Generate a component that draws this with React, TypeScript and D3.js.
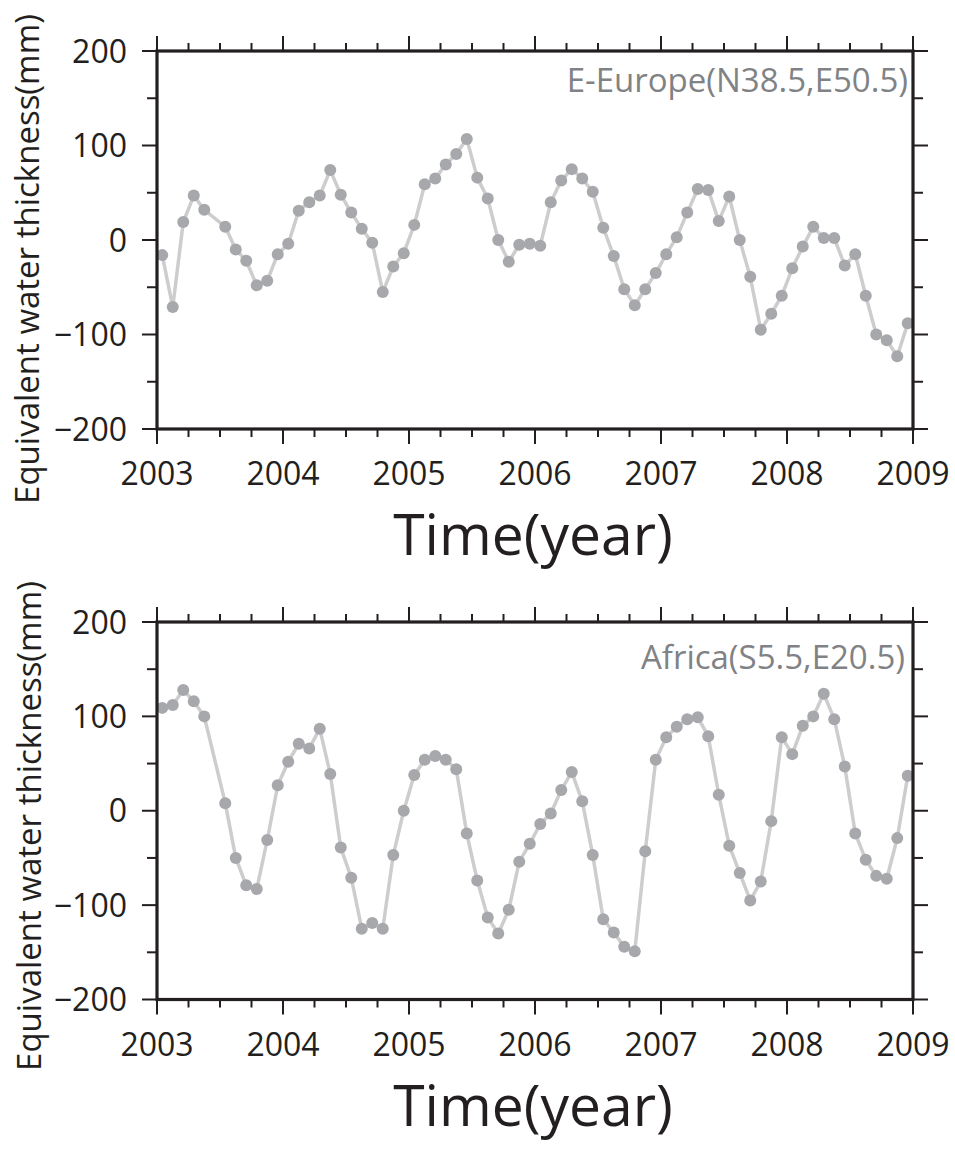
import React from "react";
import * as d3 from "d3";

// Monthly values (mid-month), index 0 = Jan 2003; null = missing month
const europeValues: (number | null)[] = [
  -16, -71, 19, 47, 32, null, 14, -10, -22, -48, -43, -15,
  -4, 31, 40, 47, 74, 48, 29, 12, -3, -55, -28, -14,
  16, 59, 65, 80, 91, 107, 66, 44, 0, -23, -5, -4,
  -6, 40, 63, 75, 65, 51, 13, -17, -52, -69, -52, -35,
  -15, 3, 29, 54, 53, 20, 46, 0, -39, -95, -78, -59,
  -30, -7, 14, 2, 2, -27, -15, -59, -100, -106, -123, -88,
];

const africaValues: (number | null)[] = [
  109, 112, 128, 116, 100, null, 8, -50, -79, -83, -31, 27,
  52, 71, 66, 87, 39, -39, -71, -125, -119, -125, -47, 0,
  38, 54, 58, 54, 44, -24, -74, -113, -130, -105, -54, -35,
  -14, -3, 22, 41, 10, -47, -115, -129, -144, -149, -43, 54,
  78, 89, 97, 99, 79, 17, -37, -66, -95, -75, -11, 78,
  60, 90, 100, 124, 97, 47, -24, -52, -69, -72, -29, 37,
];

const yearTicks = [2003, 2004, 2005, 2006, 2007, 2008, 2009];
const valueTicks = [-200, -100, 0, 100, 200];
const panelLabels = ["E-Europe(N38.5,E50.5)", "Africa(S5.5,E20.5)"];
const yAxisTitle = "Equivalent water thickness(mm)";
const xAxisTitle = "Time(year)";

const FONT = "'Myriad Pro', 'Open Sans', 'Noto Sans', sans-serif";
const INK = "#231f20";

type Panel = {
  values: (number | null)[];
  label: string;
  top: number;
  bottom: number;
  labelBaseline: number;
  labelRight: number;
  yTitleX: number;
  yTitleY: number;
};

const panels: Panel[] = [
  { values: europeValues, label: panelLabels[0], top: 51, bottom: 429, labelBaseline: 92, labelRight: 908, yTitleX: 38.5, yTitleY: 259 },
  { values: africaValues, label: panelLabels[1], top: 622, bottom: 999.5, labelBaseline: 669, labelRight: 905, yTitleX: 40.5, yTitleY: 826 },
];

const LEFT = 157;
const RIGHT = 913;

function ChartPanel({ p }: { p: Panel }) {
  const x = d3.scaleLinear().domain([2003, 2009]).range([LEFT, RIGHT]);
  const y = d3.scaleLinear().domain([-200, 200]).range([p.bottom, p.top]);
  const pts = p.values
    .map((v, i) => ({ t: 2003 + (i + 0.5) / 12, v }))
    .filter((d) => d.v !== null) as { t: number; v: number }[];
  const line = d3
    .line<{ t: number; v: number }>()
    .x((d) => x(d.t))
    .y((d) => y(d.v));
  const minorX = d3.range(2003, 2009.001, 0.25);
  const minorY = d3.range(-200, 200.001, 50);

  return (
    <g>
      {minorX.map((t, i) => {
        const major = Math.abs(t - Math.round(t)) < 1e-6;
        const len = major ? 15 : 8;
        return (
          <g key={"xt" + i} stroke={INK} strokeWidth={2}>
            <line x1={x(t)} x2={x(t)} y1={p.bottom} y2={p.bottom + len} />
            <line x1={x(t)} x2={x(t)} y1={p.top} y2={p.top - len} />
          </g>
        );
      })}
      {minorY.map((v, i) => {
        const major = v % 100 === 0;
        const len = major ? 15 : 10;
        return (
          <g key={"yt" + i} stroke={INK} strokeWidth={2}>
            <line x1={LEFT - len} x2={LEFT} y1={y(v)} y2={y(v)} />
            <line x1={RIGHT} x2={RIGHT + len} y1={y(v)} y2={y(v)} />
          </g>
        );
      })}
      <path d={line(pts) || ""} fill="none" stroke="#cdcdcd" strokeWidth={3.5} strokeLinejoin="round" />
      {pts.map((d, i) => (
        <circle key={"c" + i} cx={x(d.t)} cy={y(d.v)} r={6} fill="#a7a8ab" />
      ))}
      <rect x={LEFT} y={p.top} width={RIGHT - LEFT} height={p.bottom - p.top} fill="none" stroke={INK} strokeWidth={3.2} />
      {yearTicks.map((t) => (
        <text key={"xl" + t} x={x(t)} y={p.bottom + 56} textAnchor="middle" fontSize={32} fill={INK} fontFamily={FONT}>
          {t}
        </text>
      ))}
      {valueTicks.map((v) => (
        <text key={"yl" + v} x={127} y={y(v)} dy="0.36em" textAnchor="end" fontSize={32} fill={INK} fontFamily={FONT}>
          {v < 0 ? "\u2212" + Math.abs(v) : v}
        </text>
      ))}
      <text x={p.labelRight} y={p.labelBaseline} textAnchor="end" fontSize={33} fill="#808285" fontFamily={FONT}>
        {p.label}
      </text>
      <text
        transform={`translate(${p.yTitleX},${p.yTitleY}) rotate(-90)`}
        textAnchor="middle"
        fontSize={33}
        fill={INK}
        fontFamily={FONT}
      >
        {yAxisTitle}
      </text>
      <text x={(LEFT + RIGHT) / 2 - 2} y={p.bottom + 126} textAnchor="middle" fontSize={57} fill={INK} fontFamily={FONT}>
        {xAxisTitle}
      </text>
    </g>
  );
}

export default function App() {
  return (
    <svg
      width={955}
      height={1149}
      style={{ position: "absolute", left: 0, top: 0, background: "#fff" }}
    >
      <rect width={955} height={1149} fill="#fff" />
      {panels.map((p, i) => (
        <ChartPanel key={i} p={p} />
      ))}
    </svg>
  );
}
